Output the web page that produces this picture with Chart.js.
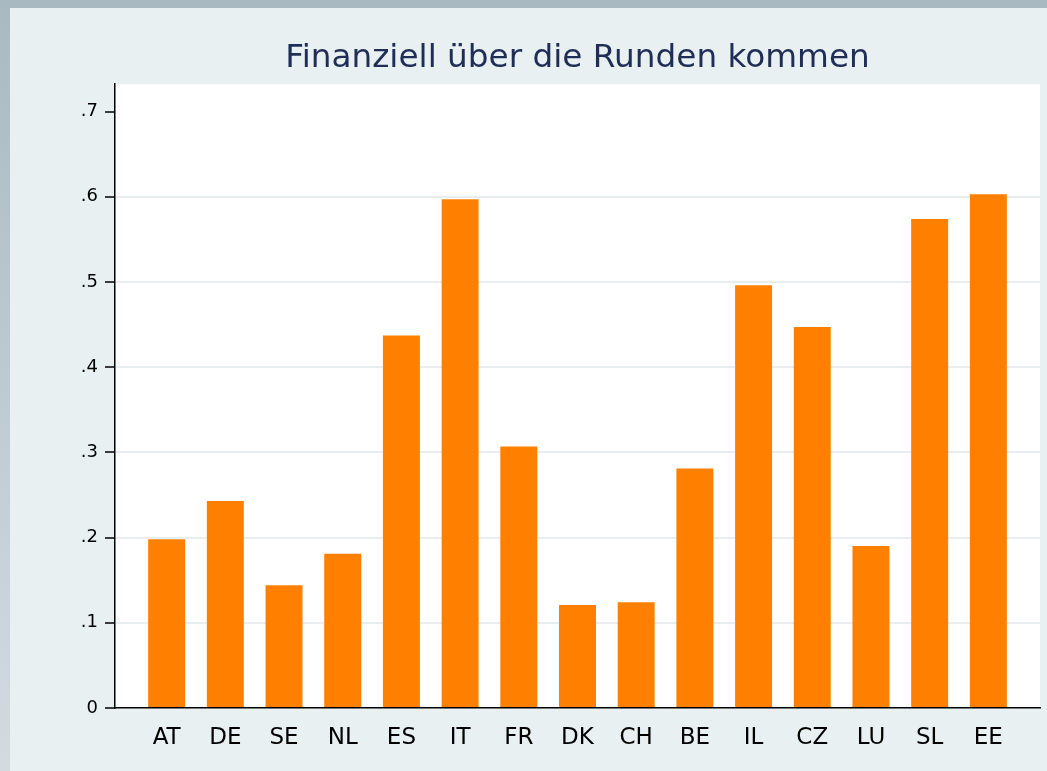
<!DOCTYPE html>
<html>
<head>
<meta charset="utf-8">
<script src="https://cdn.jsdelivr.net/npm/chart.js@4"></script>
<style>
    html, body { margin: 0; padding: 0; }
    body {
        width: 1047px; height: 771px; overflow: hidden; position: relative;
        background: linear-gradient(#a9b9c2, #d3dbe0);
    }
    #panel {
        position: absolute; left: 10px; top: 8px; width: 1037px; height: 763px;
        background: #e8f0f2;
    }
</style>
</head>
<body>
<div id="panel"><canvas id="financeChart" width="1037" height="763"></canvas></div>
<script>
// Daten
const countries = ['AT', 'DE', 'SE', 'NL', 'ES', 'IT', 'FR', 'DK', 'CH', 'BE', 'IL', 'CZ', 'LU', 'SL', 'EE'];
const shares = [0.198, 0.243, 0.144, 0.181, 0.437, 0.597, 0.307, 0.121, 0.124, 0.281, 0.496, 0.447, 0.190, 0.574, 0.603];
const yTickValues = [0, 0.1, 0.2, 0.3, 0.4, 0.5, 0.6, 0.7];
const yTickLabels = ['0', '.1', '.2', '.3', '.4', '.5', '.6', '.7'];

// weisser Plotbereich
const plotBackground = {
    id: 'plotBackground',
    beforeDraw(chart) {
        const { ctx, chartArea: a } = chart;
        ctx.save();
        ctx.fillStyle = '#ffffff';
        ctx.fillRect(a.left, a.top, a.right - a.left, a.bottom - a.top);
        ctx.restore();
    }
};

const ctx = document.getElementById('financeChart').getContext('2d');
const financeChart = new Chart(ctx, {
    type: 'bar',
    data: {
        datasets: [{
            data: countries.map((c, i) => ({ x: i + 1, y: shares[i] })),
            backgroundColor: '#ff8000',
            borderWidth: 0,
            barPercentage: 0.63,
            categoryPercentage: 1
        }]
    },
    options: {
        responsive: false,
        animation: false,
        layout: { padding: { left: 0, right: 7, top: 0, bottom: 0 } },
        scales: {
            x: {
                type: 'linear',
                offset: false,
                min: 0.12,
                max: 15.88,
                afterBuildTicks: scale => {
                    scale.ticks = countries.map((c, i) => ({ value: i + 1 }));
                },
                afterFit: scale => { scale.height = 63; },
                grid: { offset: false, color: 'rgba(0,0,0,0)', drawTicks: false },
                border: { display: true, color: '#000000', width: 1.5 },
                ticks: {
                    autoSkip: false,
                    maxRotation: 0,
                    padding: 16,
                    color: '#000000',
                    font: { family: 'DejaVu Sans', size: 23 },
                    callback: value => countries[value - 1]
                }
            },
            y: {
                min: 0,
                max: 0.732,
                afterBuildTicks: scale => {
                    scale.ticks = yTickValues.map(v => ({ value: v }));
                },
                afterFit: scale => { scale.width = 105; },
                grid: {
                    color: c => (c.index === 0 || c.index === yTickValues.length - 1) ? 'rgba(0,0,0,0)' : '#e6eef0',
                    lineWidth: 2,
                    tickColor: '#000000',
                    tickLength: 10,
                    tickWidth: 1.5
                },
                border: { display: true, color: '#000000', width: 1.5 },
                ticks: {
                    padding: 7,
                    color: '#000000',
                    font: { family: 'DejaVu Sans', size: 18 },
                    callback: (value, index) => yTickLabels[index]
                }
            }
        },
        plugins: {
            legend: { display: false },
            tooltip: { enabled: false },
            title: {
                display: true,
                fullSize: false,
                text: 'Finanziell über die Runden kommen',
                color: '#1f2d57',
                font: { family: 'DejaVu Sans', size: 32.7, weight: 'normal', lineHeight: 1.2 },
                padding: { top: 31, bottom: 6 }
            }
        }
    },
    plugins: [plotBackground]
});
</script>
</body>
</html>
